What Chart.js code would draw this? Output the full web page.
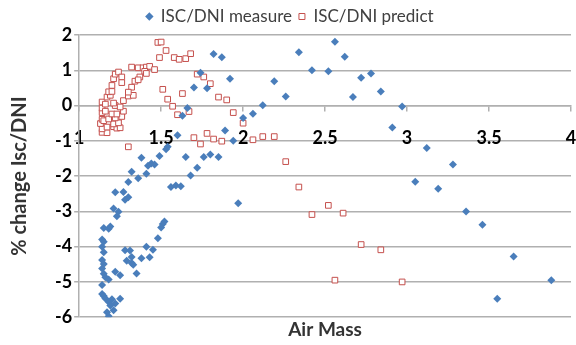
<!DOCTYPE html>
<html>
<head>
<meta charset="utf-8">
<script src="https://cdn.jsdelivr.net/npm/chart.js@4.4.1/dist/chart.umd.min.js"></script>
<style>
  html, body { margin: 0; padding: 0; background: #fff; }
  #wrap { width: 576px; height: 345px; }
</style>
</head>
<body>
<div id="wrap"><canvas id="chart-isc"></canvas></div>
<script>
const measureAirMass = [
  1.82, 1.87, 1.74, 1.92, 1.70, 1.78, 1.66, 1.63, 1.60, 1.89, 1.94, 2.00, 2.06, 2.12, 2.19, 2.26,
  2.34, 2.42, 2.52, 2.56, 2.62, 2.67, 2.72, 2.78, 2.84, 2.91, 2.97, 3.12, 3.28, 3.05, 3.19, 3.36,
  3.46, 3.65, 3.88, 3.55, 1.97, 1.65, 1.76, 1.80, 1.85, 1.72, 1.68, 1.56, 1.59, 1.62, 1.52, 1.51,
  1.50, 1.48, 1.45, 1.43, 1.41, 1.38, 1.53, 1.49, 1.54, 1.44, 1.46, 1.42, 1.41, 1.38, 1.32, 1.36,
  1.30, 1.22, 1.27, 1.30, 1.28, 1.21, 1.24, 1.23, 1.15, 1.18, 1.19, 1.14, 1.15, 1.14, 1.15, 1.28,
  1.31, 1.32, 1.29, 1.32, 1.33, 1.35, 1.22, 1.25, 1.14, 1.15, 1.14, 1.15, 1.16, 1.18, 1.14, 1.14,
  1.15, 1.16, 1.20, 1.25, 1.18, 1.22, 1.19, 1.21, 1.17, 1.18,
];
const measureChange = [
  1.46, 1.37, 0.93, 0.76, 0.51, 0.49, -0.07, -0.29, -0.84, -0.71, -1.00, -0.35, -0.23, 0.01, 0.69, 0.26,
  1.51, 1.00, 0.97, 1.81, 1.38, 0.24, 0.79, 0.91, 0.40, -0.62, -0.03, -1.20, -1.67, -2.16, -2.36, -3.00,
  -3.38, -4.28, -4.95, -5.48, -2.77, -1.46, -1.46, -1.39, -1.46, -1.76, -1.98, -2.31, -2.27, -2.29, -3.29, -3.36,
  -3.46, -3.76, -4.09, -4.30, -4.00, -4.33, -1.24, -1.43, -1.17, -1.64, -1.67, -1.71, -1.93, -1.48, -1.88, -2.06,
  -2.17, -2.46, -2.45, -2.60, -2.67, -2.92, -3.01, -3.14, -3.47, -3.49, -3.43, -3.80, -3.86, -4.00, -4.16, -4.10,
  -4.11, -4.29, -4.40, -4.46, -4.51, -4.76, -4.71, -4.81, -4.38, -4.49, -4.62, -4.77, -4.87, -4.93, -5.09, -5.34,
  -5.40, -5.47, -5.49, -5.48, -5.57, -5.61, -5.67, -5.80, -5.86, -5.97,
];

const predictAirMass = [
  1.14, 1.17, 1.14, 1.17, 1.13, 1.14, 1.15, 1.14, 1.14, 1.14, 1.16, 1.16, 1.17, 1.19, 1.18, 1.20,
  1.20, 1.21, 1.22, 1.24, 1.26, 1.26, 1.32, 1.36, 1.39, 1.41, 1.43, 1.46, 1.40, 1.37, 1.34, 1.32,
  1.21, 1.23, 1.25, 1.21, 1.24, 1.18, 1.22, 1.26, 1.20, 1.23, 1.27, 1.22, 1.25, 1.21, 1.27, 1.30,
  1.33, 1.30, 1.41, 1.36, 1.48, 1.50, 1.53, 1.49, 1.58, 1.61, 1.65, 1.68, 1.72, 1.76, 1.80, 1.85,
  1.90, 1.51, 1.63, 1.54, 1.57, 1.60, 1.67, 1.94, 2.00, 1.70, 1.74, 1.78, 1.82, 1.87, 2.06, 2.12,
  2.19, 2.26, 2.34, 2.42, 2.52, 2.61, 2.72, 2.84, 2.56, 2.97, 1.30,
];
const predictChange = [
  -0.76, -0.77, -0.66, -0.61, -0.51, -0.39, -0.43, -0.20, -0.07, 0.10, 0.04, -0.16, 0.24, 0.29, 0.39, 0.40,
  0.57, 0.76, 0.89, 0.95, 0.81, 0.65, 1.09, 1.07, 1.07, 1.09, 1.11, 1.02, 0.97, 0.81, 0.69, 0.52,
  -0.60, -0.64, -0.63, -0.52, -0.49, -0.38, -0.35, -0.31, -0.24, -0.24, -0.16, 0.00, -0.04, 0.07, 0.14, 0.27,
  0.29, 0.38, 0.91, 0.73, 1.79, 1.80, 1.56, 1.36, 1.36, 1.31, 1.33, 1.47, 0.89, 0.81, 0.62, 0.24,
  0.16, 0.46, 0.34, 0.18, -0.02, -0.26, -0.17, -0.20, -0.50, -0.91, -1.09, -0.79, -0.95, -1.01, -0.97, -0.88,
  -0.88, -1.59, -2.31, -3.09, -2.83, -3.05, -3.94, -4.09, -4.95, -5.00, -1.17,
];

const xTicks = [1, 1.5, 2, 2.5, 3, 3.5, 4];
const yTicks = [-6, -5, -4, -3, -2, -1, 0, 1, 2];

const FONT = 'Lato, "Open Sans", sans-serif';
const GRID = '#b0b0b0';

const toPoints = (xs, ys) => xs.map((x, i) => ({ x, y: ys[i] }));

new Chart(document.getElementById('chart-isc'), {
  type: 'scatter',
  data: {
    datasets: [
      {
        label: 'ISC/DNI measure',
        data: toPoints(measureAirMass, measureChange),
        pointStyle: 'rectRot',
        pointRadius: 4,
        pointHoverRadius: 4,
        backgroundColor: '#4a7ebb',
        borderColor: '#4a7ebb',
        borderWidth: 0,
      },
      {
        label: 'ISC/DNI predict',
        data: toPoints(predictAirMass, predictChange),
        pointStyle: 'rect',
        pointRadius: 4,
        pointHoverRadius: 4,
        backgroundColor: '#ffffff',
        borderColor: '#c5504d',
        borderWidth: 1,
      },
    ],
  },
  options: {
    responsive: true,
    maintainAspectRatio: false,
    animation: false,
    layout: { padding: { left: 8, right: 4, top: 1, bottom: 4 } },
    plugins: {
      tooltip: { enabled: false },
      legend: {
        position: 'top',
        labels: {
          usePointStyle: true,
          boxWidth: 6,
          boxHeight: 6,
          padding: 7,
          color: '#404040',
          font: { family: FONT, size: 17 },
        },
      },
      title: {
        display: true,
        position: 'bottom',
        fullSize: false,
        text: 'Air Mass',
        color: '#333333',
        font: { family: FONT, size: 19, weight: 'bold' },
        padding: { top: 1, bottom: 0 },
      },
    },
    scales: {
      x: {
        type: 'linear',
        min: 1,
        max: 4,
        position: { y: 0 },
        afterBuildTicks: (s) => { s.ticks = xTicks.map((v) => ({ value: v })); },
        afterFit: (s) => { s.paddingRight = 0; s.paddingLeft = 0; },
        ticks: {
          color: '#000',
          padding: 17,
          font: { family: FONT, size: 18, weight: 'bold' },
          callback: (v) => String(v),
        },
        grid: { drawOnChartArea: false, tickLength: 5, color: GRID, lineWidth: 1.5 },
        border: { color: GRID, width: 1.5 },
      },
      y: {
        min: -6,
        max: 2,
        afterBuildTicks: (s) => { s.ticks = yTicks.map((v) => ({ value: v })); },
        ticks: {
          color: '#000',
          padding: 2,
          font: { family: FONT, size: 18, weight: 'bold' },
        },
        grid: { tickLength: 5, color: GRID, lineWidth: 1.5 },
        border: { color: GRID, width: 1.5 },
        title: {
          display: true,
          text: '% change Isc/DNI',
          color: '#333333',
          font: { family: FONT, size: 20, weight: 'bold' },
          padding: { top: 0, bottom: 21 },
        },
      },
    },
  },
});
</script>
</body>
</html>
